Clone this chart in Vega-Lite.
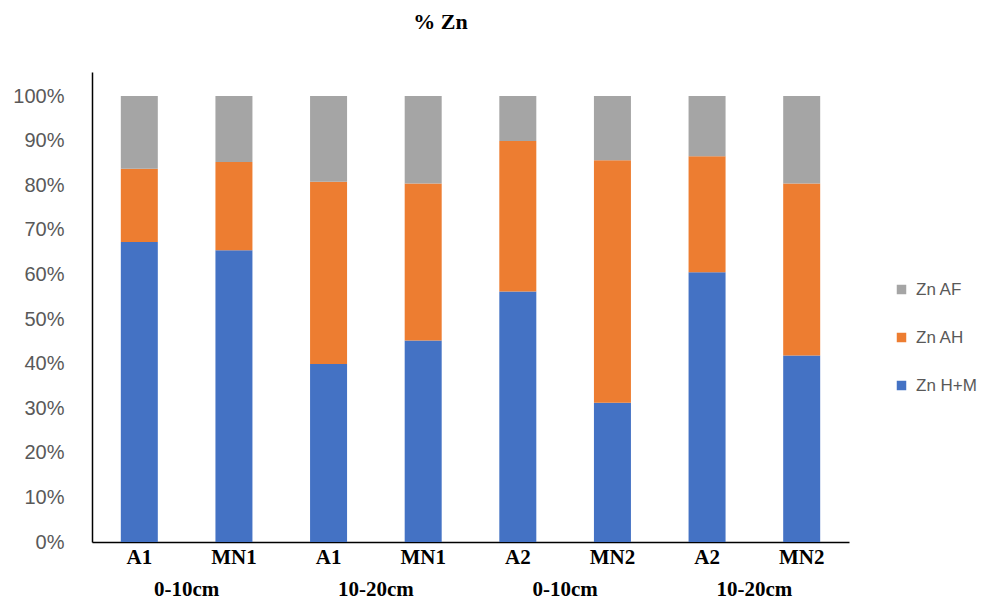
{
  "$schema": "https://vega.github.io/schema/vega-lite/v6.json",
  "autosize": "none",
  "padding": {"left": 92, "top": 72, "right": 146, "bottom": 59},
  "width": 757,
  "height": 470,
  "background": "white",
  "title": {
    "text": "% Zn",
    "font": "Liberation Serif",
    "fontSize": 22,
    "fontWeight": "bold",
    "color": "#000000",
    "anchor": "middle",
    "dx": -30,
    "offset": 38
  },
  "config": {
    "view": {"stroke": null},
    "axis": {"grid": false}
  },
  "data": {
    "values": [
      {"sample": "A1 0-10cm", "group": "1 0-10cm", "series": "Zn H+M", "value": 67.3},
      {"sample": "A1 0-10cm", "group": "1 0-10cm", "series": "Zn AH", "value": 16.4},
      {"sample": "A1 0-10cm", "group": "1 0-10cm", "series": "Zn AF", "value": 16.3},
      {"sample": "MN1 0-10cm", "group": "1 0-10cm", "series": "Zn H+M", "value": 65.4},
      {"sample": "MN1 0-10cm", "group": "1 0-10cm", "series": "Zn AH", "value": 19.8},
      {"sample": "MN1 0-10cm", "group": "1 0-10cm", "series": "Zn AF", "value": 14.8},
      {"sample": "A1 10-20cm", "group": "1 10-20cm", "series": "Zn H+M", "value": 39.9},
      {"sample": "A1 10-20cm", "group": "1 10-20cm", "series": "Zn AH", "value": 40.9},
      {"sample": "A1 10-20cm", "group": "1 10-20cm", "series": "Zn AF", "value": 19.2},
      {"sample": "MN1 10-20cm", "group": "1 10-20cm", "series": "Zn H+M", "value": 45.2},
      {"sample": "MN1 10-20cm", "group": "1 10-20cm", "series": "Zn AH", "value": 35.2},
      {"sample": "MN1 10-20cm", "group": "1 10-20cm", "series": "Zn AF", "value": 19.6},
      {"sample": "A2 0-10cm", "group": "2 0-10cm", "series": "Zn H+M", "value": 56.2},
      {"sample": "A2 0-10cm", "group": "2 0-10cm", "series": "Zn AH", "value": 33.7},
      {"sample": "A2 0-10cm", "group": "2 0-10cm", "series": "Zn AF", "value": 10.1},
      {"sample": "MN2 0-10cm", "group": "2 0-10cm", "series": "Zn H+M", "value": 31.2},
      {"sample": "MN2 0-10cm", "group": "2 0-10cm", "series": "Zn AH", "value": 54.4},
      {"sample": "MN2 0-10cm", "group": "2 0-10cm", "series": "Zn AF", "value": 14.4},
      {"sample": "A2 10-20cm", "group": "2 10-20cm", "series": "Zn H+M", "value": 60.5},
      {"sample": "A2 10-20cm", "group": "2 10-20cm", "series": "Zn AH", "value": 26.0},
      {"sample": "A2 10-20cm", "group": "2 10-20cm", "series": "Zn AF", "value": 13.5},
      {"sample": "MN2 10-20cm", "group": "2 10-20cm", "series": "Zn H+M", "value": 41.8},
      {"sample": "MN2 10-20cm", "group": "2 10-20cm", "series": "Zn AH", "value": 38.6},
      {"sample": "MN2 10-20cm", "group": "2 10-20cm", "series": "Zn AF", "value": 19.6}
    ]
  },
  "layer": [
    {
      "mark": {"type": "bar", "width": 37},
      "encoding": {
        "x": {
          "field": "sample",
          "type": "nominal",
          "sort": null,
          "scale": {"paddingInner": 0, "paddingOuter": 0},
          "axis": {
            "title": null,
            "orient": "bottom",
            "labelExpr": "split(datum.label, ' ')[0]",
            "labelAngle": 0,
            "labelFont": "Liberation Serif",
            "labelFontSize": 21,
            "labelFontWeight": "bold",
            "labelColor": "#000000",
            "labelPadding": 4,
            "ticks": false,
            "domainColor": "#000000",
            "domainWidth": 1.5
          }
        },
        "y": {
          "field": "value",
          "type": "quantitative",
          "stack": "zero",
          "scale": {"domain": [0, 105.4], "nice": false},
          "axis": {
            "title": null,
            "values": [0, 10, 20, 30, 40, 50, 60, 70, 80, 90, 100],
            "labelExpr": "datum.value + '%'",
            "labelFont": "Liberation Sans",
            "labelFontSize": 20,
            "labelColor": "#595959",
            "labelPadding": 28,
            "ticks": false,
            "domainColor": "#000000",
            "domainWidth": 1.5
          }
        },
        "color": {
          "field": "series",
          "type": "nominal",
          "scale": {
            "domain": ["Zn AF", "Zn AH", "Zn H+M"],
            "range": ["#A5A5A5", "#ED7D31", "#4472C4"]
          },
          "legend": {
            "title": null,
            "orient": "none",
            "legendX": 801,
            "legendY": 209,
            "symbolType": "square",
            "symbolSize": 90,
            "symbolStrokeWidth": 0,
            "labelFont": "Liberation Sans",
            "labelFontSize": 17,
            "labelColor": "#595959",
            "rowPadding": 30,
            "labelOffset": 6
          }
        },
        "order": {"field": "series", "sort": "descending"}
      }
    },
    {
      "mark": {"type": "tick", "opacity": 0},
      "encoding": {
        "x": {
          "field": "group",
          "type": "nominal",
          "sort": null,
          "scale": {"paddingInner": 0, "paddingOuter": 0},
          "axis": {
            "title": null,
            "orient": "bottom",
            "labelExpr": "split(datum.label, ' ')[1]",
            "labelAngle": 0,
            "labelFont": "Liberation Serif",
            "labelFontSize": 21,
            "labelFontWeight": "bold",
            "labelColor": "#000000",
            "labelPadding": 36,
            "ticks": false,
            "domain": false
          }
        }
      }
    }
  ],
  "resolve": {"scale": {"x": "independent"}, "axis": {"x": "independent"}}
}
